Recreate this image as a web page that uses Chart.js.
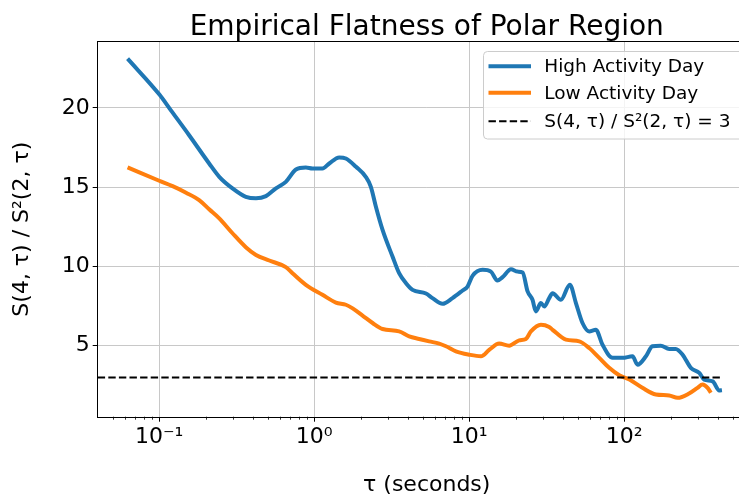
<!DOCTYPE html>
<html><head><meta charset="utf-8">
<script src="https://cdn.jsdelivr.net/npm/chart.js@4/dist/chart.umd.min.js"></script>
<style>html,body{margin:0;padding:0;overflow:hidden;background:#fff;width:739px;height:497px}</style>
</head><body>
<canvas id="c" width="760" height="497" style="display:block;width:760px;height:497px"></canvas>
<script>
const chartTitle = 'Empirical Flatness of Polar Region';
const seriesLabels = ['High Activity Day', 'Low Activity Day', 'S(4, τ) / S²(2, τ) = 3'];
const highTau = [0.0625,0.1,0.119,0.156,0.21,0.244,0.297,0.362,0.421,0.488,0.566,0.656,0.762,0.883,0.975,1.13,1.25,1.45,1.6,1.86,2.15,2.32,2.5,2.76,3.2,3.53,3.91,4.31,5.26,5.79,6.73,7.8,9.06,9.75,10.5,12.2,13.8,15.2,16.4,18.6,20.5,22.1,23.8,25.6,26.9,29.0,30.5,32.8,34.5,39.0,44.6,48.8,53.8,59.4,65.6,72.4,84.1,97.5,113,122,138,152,172,195,215,238,269,305,328,372,410,427];
const highVal = [23.1,20.85,19.84,18.27,16.49,15.65,14.92,14.39,14.29,14.43,14.92,15.33,16.11,16.24,16.17,16.17,16.49,16.87,16.8,16.28,15.65,15.02,13.76,12.3,10.62,9.57,8.94,8.52,8.29,8.0,7.64,8.0,8.48,8.73,9.4,9.78,9.67,9.11,9.32,9.82,9.67,9.61,8.42,7.89,7.16,7.69,7.47,8.0,8.31,7.89,8.84,7.69,6.43,5.9,6.0,5.06,4.23,4.23,4.33,3.8,4.33,4.96,5.0,4.79,4.79,4.43,3.6,3.28,2.86,2.75,2.17,2.19];
const lowTau = [0.0625,0.1,0.122,0.149,0.181,0.21,0.244,0.297,0.362,0.421,0.513,0.656,0.724,0.883,1.13,1.38,1.6,1.77,2.05,2.38,2.76,3.53,4.1,4.75,5.52,6.4,7.08,8.2,10.0,11.9,13.5,15.6,18.1,21.0,23.2,25.0,29.0,32.8,34.5,42.1,51.3,59.4,69.0,80.0,92.9,108,131,160,195,221,262,297,320,345,362];
const lowVal = [16.24,15.4,15.06,14.65,14.18,13.6,13.03,12.09,11.21,10.72,10.37,9.95,9.57,8.84,8.21,7.72,7.58,7.35,6.9,6.43,6.05,5.9,5.58,5.42,5.27,5.13,4.96,4.64,4.43,4.33,4.75,5.13,5.0,5.33,5.42,5.9,6.32,6.18,6.0,5.38,5.27,4.85,4.23,3.6,3.13,2.86,2.34,1.92,1.86,1.71,1.98,2.34,2.55,2.34,2.03];
const thresholdTau = [0.0401, 414];
const thresholdVal = [3, 3];
const xMajorTicks = [0.1, 1, 10, 100];
const xMajorLabels = ['10⁻¹', '10⁰', '10¹', '10²'];
const xMinorTicks = [0.05,0.06,0.07,0.08,0.09,0.2,0.3,0.4,0.5,0.6,0.7,0.8,0.9,2,3,4,5,6,7,8,9,20,30,40,50,60,70,80,90,200,300,400,500,600,700];
const yTicks = [5, 10, 15, 20];

const FONT = 'DejaVu Sans';
const toXY = (xs, ys) => xs.map((x, i) => ({x: x, y: ys[i]}));
const isMajor = v => xMajorTicks.some(m => Math.abs(m - v) / m < 1e-9);

const titlePlugin = {
  id: 'plotTitle',
  afterDraw(chart) {
    const c = chart.ctx, a = chart.chartArea;
    c.save();
    c.font = '28px "' + FONT + '"';
    c.fillStyle = '#000';
    c.textAlign = 'center';
    c.textBaseline = 'alphabetic';
    c.fillText(chartTitle, (a.left + a.right) / 2, 35);
    c.restore();
  }
};

const framePlugin = {
  id: 'frame',
  afterDatasetsDraw(chart) {
    const c = chart.ctx, a = chart.chartArea, xs = chart.scales.x;
    c.save();
    c.strokeStyle = '#000';
    c.lineWidth = 1;
    c.strokeRect(Math.round(a.left) - 0.5, Math.round(a.top) - 0.5, Math.round(a.right - a.left) + 1, Math.round(a.bottom - a.top) + 1);
    c.lineWidth = 0.8;
    c.beginPath();
    xMinorTicks.forEach(v => {
      const px = Math.round(xs.getPixelForValue(v)) + 0.5;
      c.moveTo(px, a.bottom);
      c.lineTo(px, a.bottom + 3);
    });
    c.stroke();
    c.restore();
  }
};

const legendPlugin = {
  id: 'innerLegend',
  afterDraw(chart) {
    const c = chart.ctx;
    c.save();
    const x0 = 483.5, y0 = 51.5, w = 266, h = 87.5;
    c.beginPath();
    c.roundRect(x0, y0, w, h, 4);
    c.fillStyle = 'rgba(255,255,255,0.8)';
    c.fill();
    c.strokeStyle = '#cccccc';
    c.lineWidth = 1;
    c.stroke();
    const rows = [66.3, 92.7, 121.3];
    chart.data.datasets.forEach((ds, i) => {
      const y = rows[i];
      c.beginPath();
      c.strokeStyle = ds.borderColor;
      c.lineWidth = ds.borderWidth;
      c.setLineDash(ds.borderDash || []);
      c.lineCap = 'butt';
      c.moveTo(488.5, y);
      c.lineTo(531, y);
      c.stroke();
      c.setLineDash([]);
      c.font = '18.5px "' + FONT + '"';
      c.fillStyle = '#000';
      c.textAlign = 'left';
      c.textBaseline = 'alphabetic';
      c.fillText(ds.label, 544.3, y + 6);
    });
    c.restore();
  }
};

new Chart(document.getElementById('c'), {
  type: 'line',
  data: {
    datasets: [
      {label: seriesLabels[0], data: toXY(highTau, highVal), borderColor: '#1f77b4', borderWidth: 4, pointRadius: 0, cubicInterpolationMode: 'monotone', order: 3},
      {label: seriesLabels[1], data: toXY(lowTau, lowVal), borderColor: '#ff7f0e', borderWidth: 4, pointRadius: 0, cubicInterpolationMode: 'monotone', order: 2},
      {label: seriesLabels[2], data: toXY(thresholdTau, thresholdVal), borderColor: '#000000', borderWidth: 2, borderDash: [7.4, 3.2], pointRadius: 0, order: 1}
    ]
  },
  options: {
    responsive: false,
    devicePixelRatio: 1,
    animation: false,
    layout: {padding: {top: 41.7, right: 4.2, bottom: 0, left: 0}},
    plugins: {legend: {display: false}, title: {display: false}, tooltip: {enabled: false}},
    scales: {
      x: {
        type: 'logarithmic',
        min: 0.0401,
        max: 706,
        afterBuildTicks: s => { s.ticks = xMajorTicks.map(v => ({value: v, major: true})); },
        afterFit: s => { s.height = 80.3; },
        ticks: {
          autoSkip: false, maxRotation: 0, minRotation: 0, padding: 2,
          color: '#000', font: {family: FONT, size: 22},
          callback: (v) => { const i = xMajorTicks.findIndex(m => Math.abs(m - v) / m < 1e-9); return i >= 0 ? xMajorLabels[i] : ''; }
        },
        grid: {color: '#c8c8c8', lineWidth: 1, tickColor: '#000', tickLength: 5},
        border: {display: false},
        title: {display: true, text: 'τ (seconds)', color: '#000', font: {family: FONT, size: 22}, padding: {top: 0, bottom: -1}}
      },
      y: {
        type: 'linear',
        min: 0.52,
        max: 24.17,
        afterBuildTicks: s => { s.ticks = yTicks.map(v => ({value: v})); },
        afterFit: s => { s.width = 97.7; },
        ticks: {padding: 3, color: '#000', font: {family: FONT, size: 22}},
        grid: {color: '#c8c8c8', lineWidth: 1, tickColor: '#000', tickLength: 5},
        border: {display: false},
        title: {display: true, text: 'S(4, τ) / S²(2, τ)', color: '#000', font: {family: FONT, size: 22}, padding: {top: 9, bottom: 0}}
      }
    }
  },
  plugins: [titlePlugin, framePlugin, legendPlugin]
});
</script>
</body></html>
